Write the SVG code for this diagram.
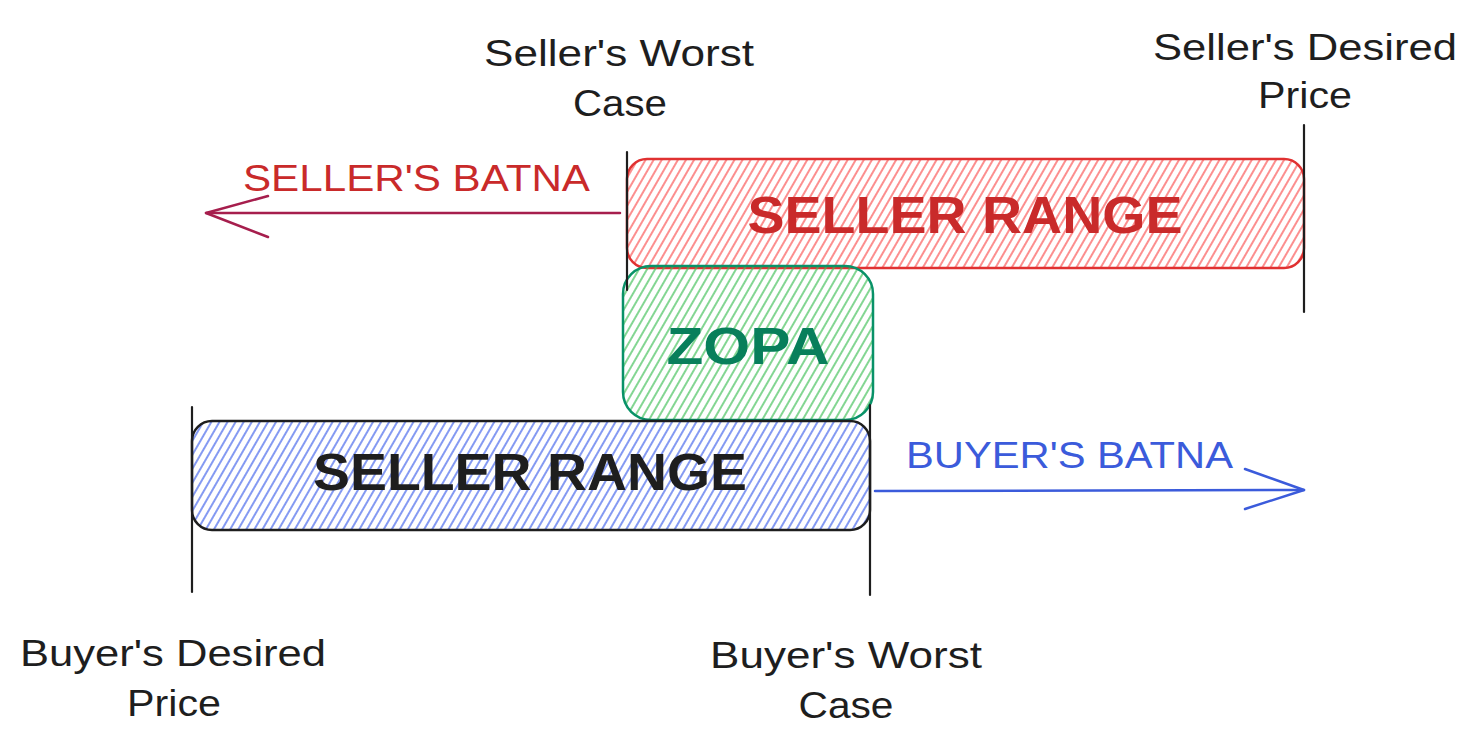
<svg xmlns="http://www.w3.org/2000/svg" width="1477" height="749" viewBox="0 0 1477 749">
<style>
.lbl{font-family:"Liberation Sans",Arial,sans-serif;font-size:36px;fill:#1e1e1e;text-anchor:middle}
.big{font-family:"Liberation Sans",Arial,sans-serif;font-size:52px;font-weight:bold;text-anchor:middle}
.batna{font-family:"Liberation Sans",Arial,sans-serif;font-size:36px}
.tick{stroke:#1e1e1e;stroke-width:2.2;fill:none;stroke-linecap:round}
</style>
<defs>
<pattern id="hR" width="7" height="7" patternUnits="userSpaceOnUse" patternTransform="rotate(30)"><line x1="2" y1="0" x2="2" y2="7" stroke="#fa5252" stroke-width="1.3"/></pattern>
<pattern id="hG" width="7" height="7" patternUnits="userSpaceOnUse" patternTransform="rotate(30)"><line x1="2" y1="0" x2="2" y2="7" stroke="#40c057" stroke-width="1.3"/></pattern>
<pattern id="hB" width="7" height="7" patternUnits="userSpaceOnUse" patternTransform="rotate(30)"><line x1="2" y1="0" x2="2" y2="7" stroke="#4263eb" stroke-width="1.3"/></pattern>
</defs>
<g id="seller-range">
<rect x="627" y="159" width="677" height="109" rx="20" fill="url(#hR)" stroke="#e03131" stroke-width="2.5"/>
<text class="big" x="965" y="233" fill="#c92a2a" textLength="435" lengthAdjust="spacingAndGlyphs">SELLER RANGE</text>
</g>
<g id="zopa">
<rect x="623" y="266" width="250" height="154" rx="28" fill="url(#hG)" stroke="#099268" stroke-width="2.5"/>
<text class="big" x="748" y="364" fill="#087f5b" textLength="163" lengthAdjust="spacingAndGlyphs">ZOPA</text>
</g>
<g id="buyer-range">
<rect x="192" y="421" width="678" height="109" rx="20" fill="url(#hB)" stroke="#1e1e1e" stroke-width="2.5"/>
<text class="big" x="530" y="490" fill="#1e1e1e" textLength="434" lengthAdjust="spacingAndGlyphs">SELLER RANGE</text>
</g>
<g id="ticks">
<line class="tick" x1="627" y1="152" x2="627" y2="290"/>
<line class="tick" x1="1304" y1="125" x2="1304" y2="312"/>
<line class="tick" x1="192" y1="407" x2="192" y2="592"/>
<line class="tick" x1="870" y1="405" x2="870" y2="595"/>
</g>
<g id="connectors" fill="none" stroke-linecap="round" stroke-linejoin="round">
<g id="seller-batna-arrow" stroke="#a61e4d" stroke-width="2.5">
<line x1="620" y1="213" x2="206" y2="213"/>
<polyline points="268,196 206,213 268,237"/>
</g>
<g id="buyer-batna-arrow" stroke="#3b5bdb" stroke-width="2.5">
<line x1="875" y1="491" x2="1304" y2="490"/>
<polyline points="1245,469 1304,490 1245,509"/>
</g>
</g>
<g id="seller-batna-label"><text class="batna" x="243" y="191" fill="#c92a2a" textLength="347" lengthAdjust="spacingAndGlyphs">SELLER'S BATNA</text></g>
<g id="buyer-batna-label"><text class="batna" x="906" y="468" fill="#3b5bdb" textLength="327" lengthAdjust="spacingAndGlyphs">BUYER'S BATNA</text></g>
<g id="seller-worst-case">
<text class="lbl" x="619" y="66" textLength="270" lengthAdjust="spacingAndGlyphs">Seller's Worst</text>
<text class="lbl" x="620" y="116" textLength="94" lengthAdjust="spacingAndGlyphs">Case</text>
</g>
<g id="seller-desired-price">
<text class="lbl" x="1305" y="60" textLength="304" lengthAdjust="spacingAndGlyphs">Seller's Desired</text>
<text class="lbl" x="1305" y="108" textLength="94" lengthAdjust="spacingAndGlyphs">Price</text>
</g>
<g id="buyer-desired-price">
<text class="lbl" x="173" y="666" textLength="306" lengthAdjust="spacingAndGlyphs">Buyer's Desired</text>
<text class="lbl" x="174" y="716" textLength="94" lengthAdjust="spacingAndGlyphs">Price</text>
</g>
<g id="buyer-worst-case">
<text class="lbl" x="846" y="668" textLength="272" lengthAdjust="spacingAndGlyphs">Buyer's Worst</text>
<text class="lbl" x="846" y="718" textLength="95" lengthAdjust="spacingAndGlyphs">Case</text>
</g>
</svg>
